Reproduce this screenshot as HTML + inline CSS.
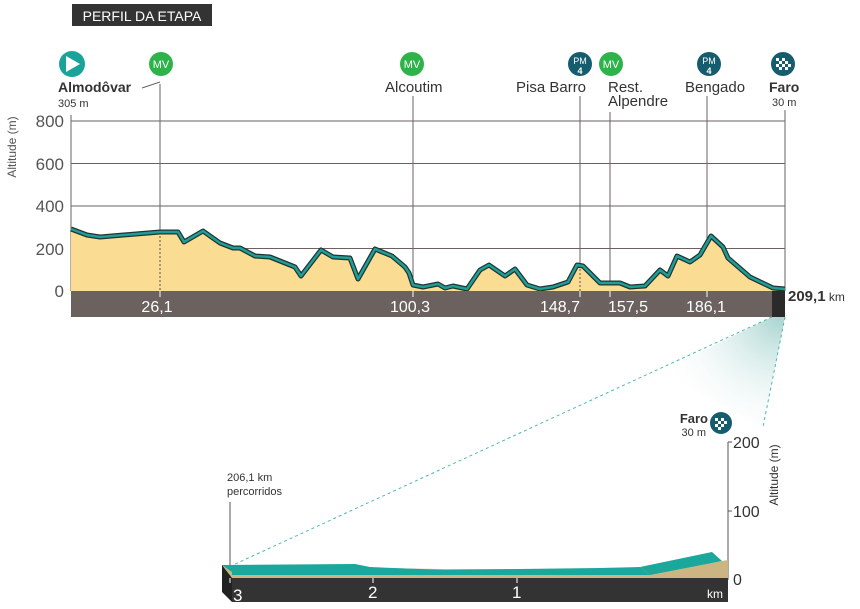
<!DOCTYPE html>
<html><head><meta charset="utf-8"><style>
body{margin:0;background:#fff}
svg{display:block;font-family:"Liberation Sans",sans-serif}
</style></head><body>
<svg width="860" height="609" viewBox="0 0 860 609">
<defs>
<radialGradient id="cone" cx="780" cy="317" r="130" gradientUnits="userSpaceOnUse">
<stop offset="0" stop-color="#9fd0cb" stop-opacity="0.9"/><stop offset="1" stop-color="#fff" stop-opacity="0"/>
</radialGradient>
</defs>
<rect x="72" y="4" width="140" height="22" fill="#333"/>
<text x="142" y="21" fill="#fff" font-size="14" text-anchor="middle">PERFIL DA ETAPA</text>
<g stroke="#6b6260" stroke-width="1">
<line x1="71" y1="121" x2="785" y2="121"/><line x1="71" y1="163.5" x2="785" y2="163.5"/>
<line x1="71" y1="206" x2="785" y2="206"/><line x1="71" y1="248.5" x2="785" y2="248.5"/>
<line x1="71" y1="115" x2="71" y2="291"/>
<line x1="160" y1="84" x2="160" y2="232"/><line x1="413" y1="96" x2="413" y2="291"/>
<line x1="580" y1="96" x2="580" y2="265"/><line x1="610" y1="112" x2="610" y2="291"/>
<line x1="707" y1="96" x2="707" y2="291"/><line x1="785" y1="110" x2="785" y2="291"/>
<line x1="142" y1="88" x2="160" y2="82"/>
</g>
<g fill="#555" font-size="17" text-anchor="end">
<text x="64" y="127">800</text><text x="64" y="170">600</text><text x="64" y="212">400</text><text x="64" y="255">200</text><text x="64" y="297">0</text>
</g>
<text transform="translate(16,147) rotate(-90)" font-size="12" fill="#555" text-anchor="middle">Altitude (m)</text>
<path d="M71,229 L87,235 100,237 160,232 178,232 184,242 203,231 220,243 233,248 240,248 255,256 270,257 295,267 301,276 321,250 333,257 350,258 358,279 375,249 392,256 405,267 409,273 413,285 423,287 438,284 445,288 453,286 467,289 480,270 489,265 505,276 515,269 527,285 540,289 553,287 568,282 577,265 583,266 600,283 620,283 630,287 645,286 660,270 668,276 677,256 690,262 700,255 711,236 723,247 728,258 750,277 773,288 785,289 L785,291 71,291Z" fill="#fbdc93"/>
<line x1="160" y1="232" x2="160" y2="291" stroke="#555" stroke-dasharray="2,2"/>
<line x1="580" y1="265" x2="580" y2="291" stroke="#555" stroke-dasharray="2,2"/>
<path d="M71,229 L87,235 100,237 160,232 178,232 184,242 203,231 220,243 233,248 240,248 255,256 270,257 295,267 301,276 321,250 333,257 350,258 358,279 375,249 392,256 405,267 409,273 413,285 423,287 438,284 445,288 453,286 467,289 480,270 489,265 505,276 515,269 527,285 540,289 553,287 568,282 577,265 583,266 600,283 620,283 630,287 645,286 660,270 668,276 677,256 690,262 700,255 711,236 723,247 728,258 750,277 773,288 785,289" fill="none" stroke="#233" stroke-width="5" stroke-linejoin="round"/>
<path d="M71,229 L87,235 100,237 160,232 178,232 184,242 203,231 220,243 233,248 240,248 255,256 270,257 295,267 301,276 321,250 333,257 350,258 358,279 375,249 392,256 405,267 409,273 413,285 423,287 438,284 445,288 453,286 467,289 480,270 489,265 505,276 515,269 527,285 540,289 553,287 568,282 577,265 583,266 600,283 620,283 630,287 645,286 660,270 668,276 677,256 690,262 700,255 711,236 723,247 728,258 750,277 773,288 785,289" fill="none" stroke="#1e9e94" stroke-width="2.5" stroke-linejoin="round"/>
<rect x="71" y="291" width="714" height="26" fill="#6b6260"/>
<rect x="772" y="291" width="13" height="26" fill="#2a2a2a"/>
<g fill="#fff" font-size="16" text-anchor="middle">
<text x="157" y="312">26,1</text><text x="410" y="312">100,3</text><text x="560" y="312">148,7</text><text x="628" y="312">157,5</text><text x="706" y="312">186,1</text>
</g>
<g stroke="#fff"><line x1="160" y1="291" x2="160" y2="297"/><line x1="413" y1="291" x2="413" y2="297"/><line x1="580" y1="291" x2="580" y2="297"/><line x1="610" y1="291" x2="610" y2="297"/><line x1="707" y1="291" x2="707" y2="297"/></g>
<text x="788" y="301" font-size="15" font-weight="bold" fill="#333">209,1<tspan font-size="12" font-weight="normal"> km</tspan></text>
<circle cx="72" cy="64" r="13" fill="#1aa39a"/><path d="M66,56 L80,64 66,72Z" fill="#fff"/>
<g font-size="11" fill="#fff" text-anchor="middle">
<circle cx="161" cy="64" r="12" fill="#2db34a"/><text x="161" y="68">MV</text>
<circle cx="412" cy="64" r="12" fill="#2db34a"/><text x="412" y="68">MV</text>
<circle cx="580" cy="64" r="12" fill="#155d6e"/><text x="580" y="64" font-size="9">PM</text><text x="580" y="74" font-size="9" font-weight="bold">4</text>
<circle cx="611" cy="64" r="12" fill="#2db34a"/><text x="611" y="68">MV</text>
<circle cx="709" cy="64" r="12" fill="#155d6e"/><text x="709" y="64" font-size="9">PM</text><text x="709" y="74" font-size="9" font-weight="bold">4</text>
<circle cx="783" cy="64" r="12" fill="#155d6e"/>
</g>
<g fill="#fff"><rect x="776" y="58" width="3" height="3"/><rect x="782" y="58" width="3" height="3"/><rect x="779" y="61" width="3" height="3"/><rect x="785" y="61" width="3" height="3"/><rect x="776" y="64" width="3" height="3"/><rect x="782" y="64" width="3" height="3"/><rect x="788" y="64" width="3" height="3"/><rect x="779" y="67" width="3" height="3"/><rect x="785" y="67" width="3" height="3"/></g>
<g fill="#333" font-size="15">
<text x="58" y="92" font-weight="bold" font-size="14">Almodôvar</text>
<text x="58" y="107" font-size="11">305 m</text>
<text x="385" y="92">Alcoutim</text>
<text x="516" y="92">Pisa Barro</text>
<text x="608" y="92">Rest.</text><text x="608" y="106">Alpendre</text>
<text x="685" y="92">Bengado</text>
<text x="769" y="92" font-weight="bold" font-size="14">Faro</text>
<text x="772" y="106" font-size="11">30 m</text>
</g>
<path d="M772,317 L785,317 763,427 660,372Z" fill="url(#cone)"/>
<line x1="772" y1="317" x2="233" y2="565" stroke="#4fb8b0" stroke-dasharray="3,3"/>
<line x1="785" y1="317" x2="763" y2="427" stroke="#4fb8b0" stroke-dasharray="3,3"/>
<text x="708" y="423" font-size="13" font-weight="bold" fill="#333" text-anchor="end">Faro</text>
<text x="706" y="436" font-size="11" fill="#333" text-anchor="end">30 m</text>
<circle cx="721" cy="423" r="11" fill="#155d6e"/>
<g fill="#fff"><rect x="715" y="418" width="3" height="3"/><rect x="721" y="418" width="3" height="3"/><rect x="718" y="421" width="3" height="3"/><rect x="724" y="421" width="3" height="3"/><rect x="715" y="424" width="3" height="3"/><rect x="721" y="424" width="3" height="3"/><rect x="718" y="427" width="3" height="3"/></g>
<text x="227" y="481" font-size="11" fill="#333">206,1 km</text>
<text x="227" y="495" font-size="11" fill="#333">percorridos</text>
<line x1="230" y1="502" x2="230" y2="580" stroke="#555"/>
<line x1="728" y1="442" x2="728" y2="580" stroke="#555"/>
<line x1="728" y1="442" x2="732" y2="442" stroke="#555"/><line x1="728" y1="511" x2="732" y2="511" stroke="#555"/>
<g fill="#333" font-size="16"><text x="733" y="448">200</text><text x="733" y="517">100</text><text x="733" y="585">0</text></g>
<text transform="translate(778,475) rotate(-90)" font-size="12" fill="#333" text-anchor="middle">Altitude (m)</text>
<path d="M222,565 L352,565 370,568 440,569 600,569 630,571 648,574 728,560 728,578 232,578Z" fill="#cdb583"/>
<path d="M222,565 L355,564 370,567 445,570 600,568 640,567 650,575 232,575 232,572Z" fill="#1aa79c"/>
<path d="M640,567 L712,552 722,561 650,575Z" fill="#1aa79c"/>
<path d="M222,565 L232,578 232,602 222,592Z" fill="#222"/>
<rect x="232" y="578" width="496" height="24" fill="#333"/>
<g stroke="#fff"><line x1="230" y1="578" x2="230" y2="583"/><line x1="373" y1="578" x2="373" y2="583"/><line x1="517" y1="578" x2="517" y2="583"/></g>
<g fill="#fff" font-size="17"><text x="233" y="601">3</text><text x="368" y="598">2</text><text x="512" y="598">1</text><text x="707" y="598" font-size="12">km</text></g>
</svg>
</body></html>
